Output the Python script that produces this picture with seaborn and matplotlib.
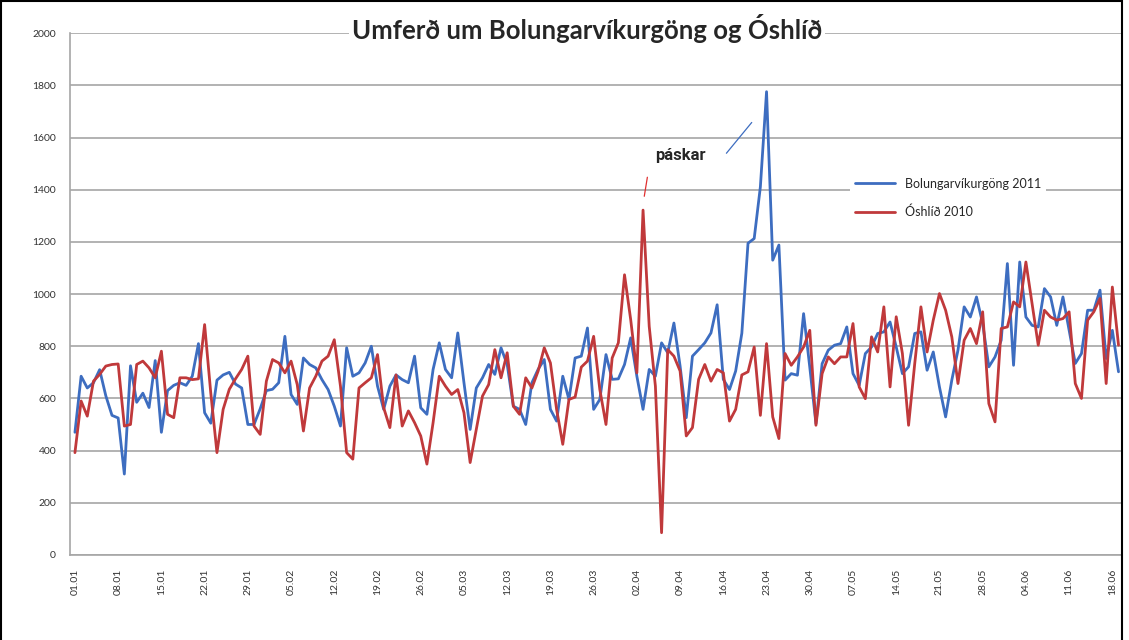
import pandas as pd
import seaborn as sns
import matplotlib.pyplot as plt
from matplotlib.patches import Rectangle

# daily traffic, 01.01 - 19.06
bolungarvik_2011 = [
    470, 685, 640, 660, 710, 610, 535, 525, 310, 725, 585, 620, 565, 745,
    470, 630, 650, 660, 650, 685, 810, 545, 505, 670, 690, 700, 655, 640,
    500, 500, 560, 630, 635, 660, 838, 615, 577, 755, 730, 717, 672, 634,
    570, 494, 794, 685, 698, 736, 800, 647, 558, 647, 690, 672, 660, 762,
    564, 539, 711, 813, 711, 679, 851, 660, 481, 640, 679, 730, 692, 794,
    730, 570, 558, 500, 660, 711, 749, 558, 513, 685, 596, 755, 762, 870,
    558, 596, 768, 673, 675, 730, 832, 685, 558, 711, 685, 813, 775, 889,
    724, 526, 762, 787, 813, 851, 959, 673, 634, 705, 850, 1195, 1213, 1411,
    1776, 1130, 1188, 670, 695, 689, 925, 720, 503, 733, 785, 804, 810, 874,
    695, 650, 772, 797, 849, 855, 893, 797, 695, 721, 849, 855, 708, 778,
    644, 529, 670, 785, 951, 912, 989, 887, 721, 759, 823, 1117, 727, 1123,
    912, 880, 874, 1021, 989, 880, 989, 861, 734, 772, 938, 938, 1015, 753,
    861, 702,
]
oshlid_2010 = [
    392, 590, 532, 666, 692, 724, 730, 732, 494, 500, 730, 743, 717, 679,
    781, 539, 526, 679, 679, 672, 675, 883, 620, 392, 558, 635, 675, 711,
    762, 494, 462, 666, 749, 736, 698, 743, 653, 475, 640, 685, 743, 762,
    825, 647, 392, 367, 640, 660, 679, 768, 564, 488, 690, 494, 552, 507,
    456, 348, 507, 685, 647, 615, 634, 545, 354, 481, 609, 653, 787, 679,
    775, 570, 539, 679, 640, 704, 794, 736, 558, 424, 596, 605, 720, 743,
    838, 634, 500, 755, 813, 1074, 902, 698, 1322, 876, 647, 85, 787, 762,
    705, 456, 488, 673, 730, 666, 711, 698, 513, 558, 690, 702, 797, 535,
    810, 529, 446, 772, 727, 759, 797, 861, 497, 695, 759, 733, 759, 759,
    887, 644, 599, 836, 778, 951, 644, 913, 772, 497, 734, 951, 778, 900,
    1002, 938, 836, 657, 823, 868, 810, 932, 580, 510, 868, 874, 970, 951,
    1123, 963, 804, 938, 912, 900, 906, 932, 657, 600, 900, 932, 983, 657,
    1027, 804,
]
tick_labels = ['01.01', '08.01', '15.01', '22.01', '29.01', '05.02', '12.02',
               '19.02', '26.02', '05.03', '12.03', '19.03', '26.03', '02.04',
               '09.04', '16.04', '23.04', '30.04', '07.05', '14.05', '21.05',
               '28.05', '04.06', '11.06', '18.06']
series_names = ['Bolungarvíkurgöng 2011', 'Óshlíð 2010']

n = len(bolungarvik_2011)
df = pd.DataFrame({'dagur': list(range(n)) * 2,
                   'umferd': bolungarvik_2011 + oshlid_2010,
                   'leid': [series_names[0]] * n + [series_names[1]] * n})

sns.set_style('white')
plt.rcParams['font.family'] = ['Lato', 'DejaVu Sans']

fig = plt.figure(figsize=(11.29, 6.4), dpi=100)
ax = fig.add_axes([0.062, 0.133, 0.932, 0.815])

sns.lineplot(data=df, x='dagur', y='umferd', hue='leid', ax=ax,
             palette=['#3d6dc0', '#c0393b'], linewidth=2.0)

ax.set_xlim(-0.8, 169.6)
ax.set_ylim(0, 2000)
ax.set_yticks(range(0, 2001, 200))
ax.tick_params(axis='y', labelsize=7.5, colors='#333333', length=0, pad=10)
ax.set_xticks(range(0, n, 7))
ax.set_xticklabels(tick_labels, rotation=90, fontsize=7.5, color='#333333')
ax.tick_params(axis='x', length=4, color='#999999', direction='out', pad=6)
ax.yaxis.grid(True, color='#a6a6a6', linewidth=1.2)
ax.set_axisbelow(True)
ax.set_xlabel('')
ax.set_ylabel('')
for s in ['top', 'right']:
    ax.spines[s].set_visible(False)
for s in ['left', 'bottom']:
    ax.spines[s].set_color('#a6a6a6')
    ax.spines[s].set_linewidth(1.2)

leg = ax.legend(loc='upper left', bbox_to_anchor=(0.735, 0.745), frameon=True,
                fontsize=9, handlelength=3.2, labelspacing=1.3,
                facecolor='white', edgecolor='none', framealpha=1)

# páskar annotation
ax.text(98, 1532, 'páskar', fontsize=12, fontweight='bold',
        family=['Roboto', 'DejaVu Sans'], ha='center', va='center')
ax.plot([105.5, 109.6], [1540, 1658], color='#3d6dc0', lw=0.9)
ax.plot([92.7, 92.2], [1448, 1375], color='#e03030', lw=0.9)

fig.text(0.52, 0.956, 'Umferð um Bolungarvíkurgöng og Óshlíð', fontsize=18.5,
         fontweight='bold', ha='center', va='center',
         bbox=dict(facecolor='white', edgecolor='none', pad=2))

fig.patches.append(Rectangle((0.001, -0.01), 0.993, 1.008, transform=fig.transFigure,
                             fill=False, edgecolor='black', linewidth=1.5))

plt.savefig('out.png', dpi=100)
